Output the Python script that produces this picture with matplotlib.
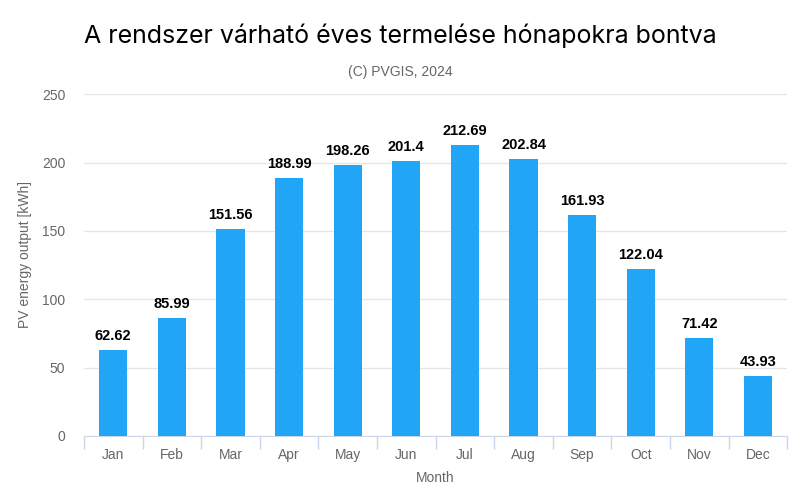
import matplotlib.pyplot as plt
import numpy as np

# Monthly PV output (kWh)
months = ['Jan', 'Feb', 'Mar', 'Apr', 'May', 'Jun', 'Jul', 'Aug', 'Sep', 'Oct', 'Nov', 'Dec']
output = [62.62, 85.99, 151.56, 188.99, 198.26, 201.4, 212.69, 202.84, 161.93, 122.04, 71.42, 43.93]
value_labels = ['62.62', '85.99', '151.56', '188.99', '198.26', '201.4',
                '212.69', '202.84', '161.93', '122.04', '71.42', '43.93']
y_ticks = [0, 50, 100, 150, 200, 250]

plt.rcParams['font.family'] = ['Liberation Sans', 'DejaVu Sans']

fig = plt.figure(figsize=(8, 5.04), dpi=100)
ax = fig.add_axes([0.105, 0.135, 0.879, 0.678])

x = np.arange(len(months))
bars = ax.bar(x, output, width=0.48, color='#21a6f7', zorder=3)

# value labels above bars
for xi, val, lab in zip(x, output, value_labels):
    ax.annotate(lab, (xi, val), xytext=(0, 5), textcoords='offset points',
                ha='center', va='bottom', fontsize=10.5, fontweight='bold',
                color='#000000')

ax.set_xlim(-0.5, len(months) - 0.5)
ax.set_ylim(0, 250)
ax.set_yticks(y_ticks)
ax.yaxis.grid(True, color='#e6e6e6', linewidth=1, zorder=0)
ax.tick_params(axis='y', length=0, labelsize=10, labelcolor='#666666', pad=13.5)

# category ticks on boundaries
ax.set_xticks(x)
ax.set_xticklabels(months)
ax.set_xticks(np.arange(-0.5, len(months)), minor=True)
ax.tick_params(axis='x', which='major', length=0, labelsize=10, labelcolor='#666666', pad=9)
ax.tick_params(axis='x', which='minor', length=9, color='#ccd6eb', width=1)

for side in ['top', 'right', 'left']:
    ax.spines[side].set_visible(False)
ax.spines['bottom'].set_color('#ccd6eb')

ax.set_xlabel('Month', fontsize=10, color='#666666', labelpad=6)
ax.set_ylabel('PV energy output [kWh]', fontsize=10, color='#666666')
ax.yaxis.set_label_coords(-0.074, 0.53)

fig.text(0.5, 0.93, 'A rendszer várható éves termelése hónapokra bontva',
         ha='center', va='center', fontsize=18, color='#000000',
         family=['Inter', 'DejaVu Sans'])
fig.text(0.5, 0.857, '(C) PVGIS, 2024', ha='center', va='center',
         fontsize=10, color='#666666')

fig.savefig('out.png', dpi=100)
